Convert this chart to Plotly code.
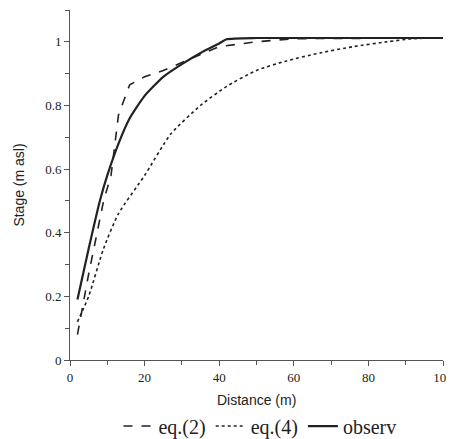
import plotly.graph_objects as go

# distance (m) and stage (m asl)
obs_x = [2, 5, 8, 10, 13, 16, 20, 25, 30, 35, 40, 42, 50, 100]
obs_y = [0.19, 0.35, 0.5, 0.58, 0.68, 0.76, 0.83, 0.89, 0.93, 0.965, 0.995, 1.008, 1.012, 1.012]

eq2_x = [2, 5, 9, 11, 13, 16, 20, 25, 30, 35, 40, 50, 60, 100]
eq2_y = [0.08, 0.27, 0.5, 0.58, 0.77, 0.865, 0.89, 0.91, 0.935, 0.96, 0.985, 1.0, 1.01, 1.012]

eq4_x = [2, 5, 9, 13, 20, 27, 35, 42, 50, 58, 67, 76, 85, 92, 100]
eq4_y = [0.12, 0.2, 0.35, 0.46, 0.58, 0.71, 0.80, 0.86, 0.91, 0.94, 0.965, 0.985, 1.0, 1.01, 1.012]

x_ticks = [0, 20, 40, 60, 80, 100]
y_ticks = [0, 0.2, 0.4, 0.6, 0.8, 1]
y_labels = ["0", "0.2", "0.4", "0.6", "0.8", "1"]

serif = "Liberation Serif"
sans = "Liberation Sans"
ink = "#222"

fig = go.Figure()
fig.add_trace(go.Scatter(x=eq2_x, y=eq2_y, mode="lines", name="eq.(2)",
                         line=dict(color=ink, width=1.6, dash="dash")))
fig.add_trace(go.Scatter(x=eq4_x, y=eq4_y, mode="lines", name="eq.(4)",
                         line=dict(color=ink, width=1.6, dash="dot", shape="spline", smoothing=0.6)))
fig.add_trace(go.Scatter(x=obs_x, y=obs_y, mode="lines", name="observ",
                         line=dict(color=ink, width=2.2, shape="spline", smoothing=0.5)))

axis_common = dict(showgrid=False, zeroline=False, showline=True, linecolor="#555",
                   linewidth=1, ticks="outside", ticklen=5, tickcolor="#555", automargin=False,
                   tickfont=dict(family=serif, size=13, color=ink))

fig.update_xaxes(range=[0, 100], tickvals=x_ticks, ticklabeloverflow="allow",
                 minor=dict(dtick=10, ticks="outside", ticklen=4, tickcolor="#555"),
                 **axis_common)
fig.update_yaxes(range=[0, 1.1], tickvals=y_ticks, ticktext=y_labels,
                 minor=dict(dtick=0.1, ticks="outside", ticklen=4, tickcolor="#555"),
                 title=dict(text="Stage (m asl)", font=dict(family=sans, size=14, color=ink), standoff=17),
                 **axis_common)

# x-axis title placed as an annotation so it sits well clear of the tick labels
fig.add_annotation(text="Distance (m)", xref="paper", yref="paper", x=0.5, y=0,
                   yshift=-40, yanchor="middle", showarrow=False,
                   font=dict(family=sans, size=14, color=ink))

# the page body keeps its 8px margin, so the figure is sized to fit inside the window
fig.update_layout(
    width=446, height=431,
    margin=dict(l=62, r=11, t=2, b=79),
    paper_bgcolor="white", plot_bgcolor="white",
    legend=dict(orientation="h", xref="container", yref="container",
                x=0.565, xanchor="center", y=0.03, yanchor="middle",
                font=dict(family=serif, size=20, color=ink),
                tracegroupgap=0),
)

fig.write_html("out.html")
